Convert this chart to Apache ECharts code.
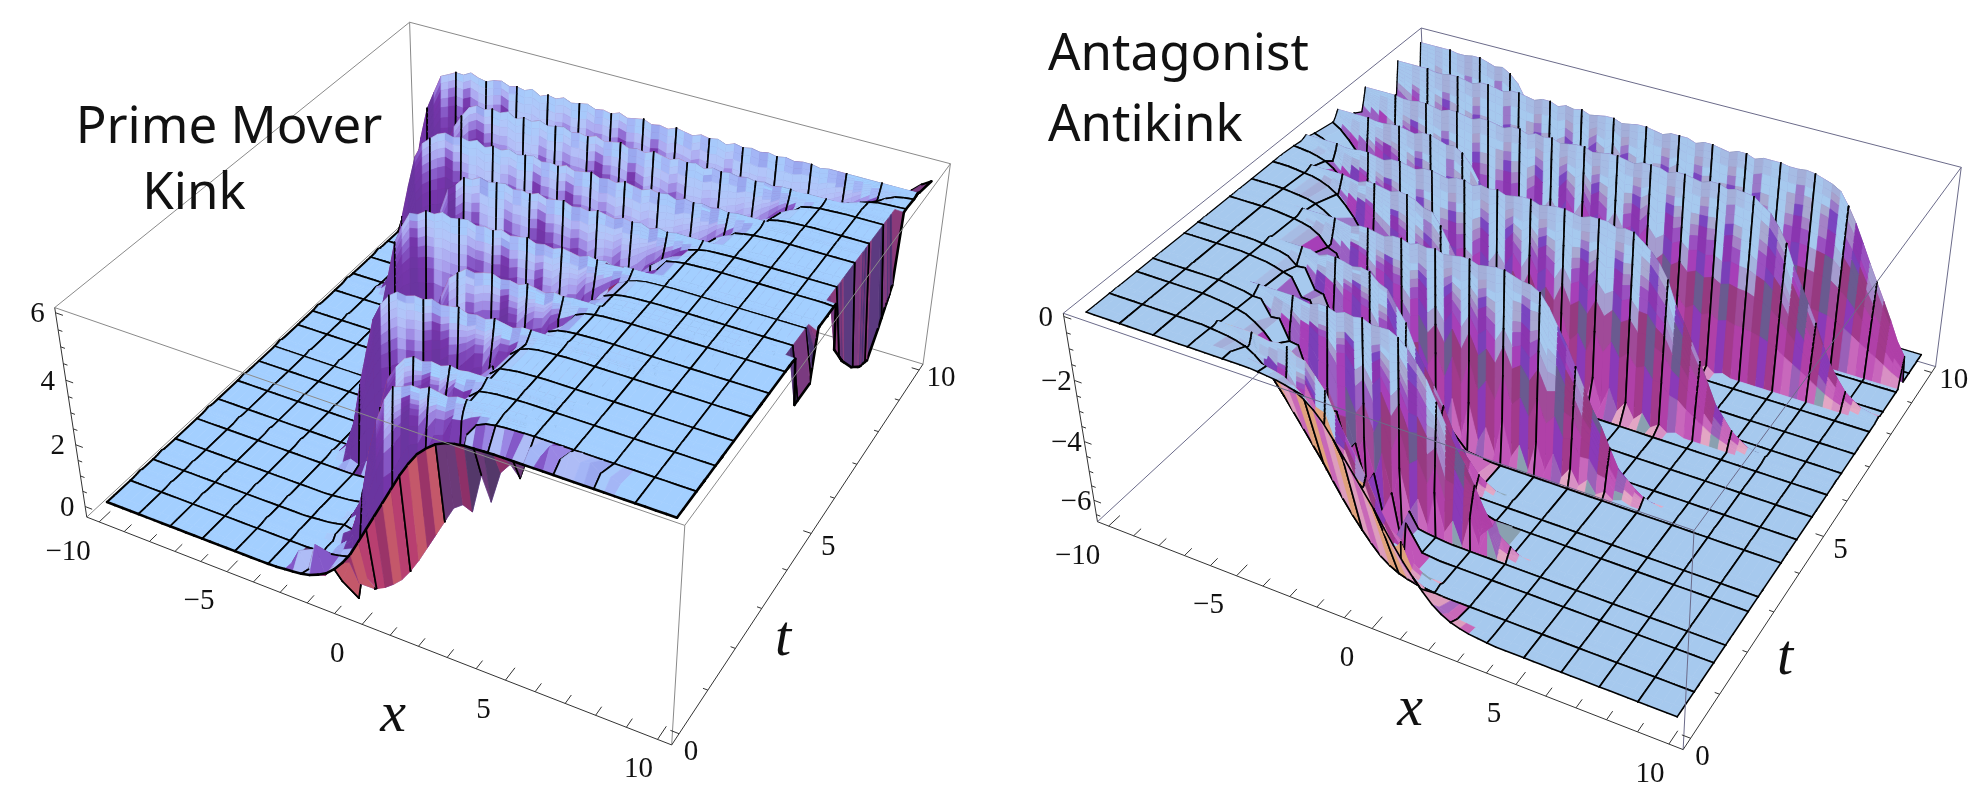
<!DOCTYPE html>
<html><head><meta charset="utf-8">
<style>html,body{margin:0;padding:0;background:#fff}#c{width:1987px;height:803px}</style>
<script src="https://cdn.jsdelivr.net/npm/echarts@6/dist/echarts.min.js"></script>
</head><body><div id="c"></div>
<script>
// ---------- values ----------
const titleLeft = ['Prime Mover', 'Kink'];
const titleRight = ['Antagonist', 'Antikink'];
const xTicks = [-10, -5, 0, 5, 10];
const tTicks = [0, 5, 10];
const zTicksLeft = [0, 2, 4, 6];
const zTicksRight = [0, -2, -4, -6];

// kink height against distance from the kink centre
const profileD = [-30, -4, -3, -2.5, -2, -1.5, -1, -0.5, 0, 0.5, 1, 1.5, 2, 2.5, 3, 4, 30];
const leftProfile = [0, 0.02, 0.1, 0.2, 0.42, 0.8, 1.4, 2.2, 3, 3.8, 4.6, 5.2, 5.6, 5.8, 5.88, 5.92, 5.92];
const rightProfile = [0.02, 0, -0.1, -0.22, -0.5, -1, -1.7, -2.4, -3.1, -3.9, -4.6, -5.2, -5.7, -5.95, -6.1, -6.2, -6.25];
// the ridge sheets end more steeply
const ridgeD = [-30, -1.4, -1, -0.6, -0.2, 0.2, 0.6, 1, 1.4, 2, 30];
const leftRidgeProfile = [0, 0.05, 0.4, 1.6, 3.2, 4.6, 5.4, 5.75, 5.85, 5.92, 5.92];
const ridgeDR = [-30, -3, -2.2, -1.6, -1, -0.5, 0, 0.5, 1, 1.6, 2.2, 3, 30];
const rightRidgeProfile = [0, 0, -0.1, -0.4, -1.2, -2.2, -3.1, -4, -5, -5.7, -6.05, -6.2, -6.25];

// ridge sheets (t, kink position) and the kink position between them
const leftRidgeT = [0.9, 1.5, 2.85, 3.9, 5.05, 6.3, 7.3, 8.4, 9.3];
const leftRidgeX = [-0.8, -1.3, -3.4, -2.2, -5.2, -4.9, -7.2, -7.0, -8.9];
const leftValleyT = [0, 0.2, 0.5, 1, 2.2, 3.7, 5.1, 6.1, 7.2, 8.3, 8.9, 10];
const leftValleyX = [0.4, 2.4, 1.2, 0.0, 0.0, 0.9, 1.5, 2.3, 3.5, 4.6, 6.6, 7.8];
const rightRidgeT = [0.75, 1.85, 3.05, 4.0, 5.2, 6.0, 7.0, 7.9, 9.0, 9.8];
const rightRidgeX = [-1.4, 0.65, -1.6, 2.9, -2.4, 4.7, -3.2, 7.2, 8.8, -4.4];
const rightValleyT = [0, 0.2, 0.7, 2.5, 3.6, 5.2, 6.2, 8.2, 10];
const rightValleyX = [0, -0.6, -3.2, -3.8, -4.2, -5.6, -7.2, -8.5, -9.8];

// tone of the sheet along x, one per column (0 light .. 2 dark)
const stripeLeft = [0,0,1,0, 2,1,0,1, 0,2,1,0, 0,1,2,1, 0,0,2,1, 0,1,2,0, 0,2,1,0, 1,2,1,0, 0,2,1,0, 0,1,2,1, 0,0,2,1, 0,1,2,0, 0,1,2,1, 0,0,1,2, 0,1,0,1, 0,0,1,0];
const stripeRight = [0,0,1,0, 0,1,2,1, 0,1,2,1, 0,0,2,1, 0,1,2,1, 0,1,2,0, 0,2,1,0, 1,2,1,0, 0,1,2,1, 0,0,2,1, 0,1,2,1, 0,2,1,0, 0,1,2,1, 0,1,2,0, 1,2,1,0, 0,1,0,0];
// how far each column's ridge top falls short of the plateau
const notchLeft = [0,0,.1,0, .05,.15,0,.1, .05,.1,0,.1, .15,.05,0,.1, .05,.1,0,.15, .05,.1,0,.1, .05,0,.1,.05, .1,0,.1,.05, 0,.1,.05,.1, 0,.05,.1,0, .05,0,.1,0, .05,0,.05,0, .05,0,.05,0, 0,.05,0,0, 0,0,0,0, 0,0,0,0];
const notchRight = [0,0,0,0, 0,.05,.05,0, 0,.05,.1,0, 0,.05,.1,0, 0,.05,.1,0, 0,.1,0,.05, 0,.1,.05,0, 0,.1,.05,0, 0,.05,.1,0, 0,0,.1,0, 0,.05,.1,0, 0,.1,0,0, 0,.05,.05,0, 0,.05,0,0, 0,.05,0,0, 0,0,0,0];
// bottom edge jag of the walls (height above the valley floor)
const floorJagLeft = [0,0,0,0, 0,0,0,0, 0,0,0,0, .1,0,.2,0, .1,.3,0,.2, .1,.3,0,.2, 0,.1,.2,0, .1,0,.2,.3, 0,.2,.3,0, .2,.3,0,.2, .1,0,.2,0, .1,0,0,0, 0,0,0,0, 0,0,0,0, 0,0,0,0, 0,0,0,0];
const floorJagRight = [0,0,0,0, 0,0,0,0, 0,0,0,0, 0,0,0,0, .1,0,.3,0, .4,.1,.6,0, 1,.2,1.4,.3, 1.6,.4,1,.2, 1.5,.3,.8,0, 1.1,.2,.9,.2, .6,.1,.4,0, .2,0,.1,0, 0,0,0,0, 0,0,0,0, 0,0,0,0, 0,0,0,0];
// t-lines zigzag where they cross the kink between the ridges
const rowJagLeft = [0,0,0,0, 0,0,0,0, 0,0,.1,0, .15,0,.2,-.1, .2,0,.25,-.1, .3,-.1,.2,0, .3,-.2,-1,-.2, -1.4,-.1,-1.3,-.2, -1.5,-.1,-1.2,-.2, -1.4,-.1,-1.5,-.1, -1.2,-.2,-1.5,-.1, -1.3,-.2,-1.4,-.1, -1,-.1,-1.4,-.2, -1.2,-.1,-1,0, -.4,0,-.2,0, 0,0,0,0, 0];
const rowJagRight = [0,0,0,0, 0,0,0,0, 0,0,0,0, -.1,.1,-.2,.1, -.2,.2,-.3,.1, -.3,.2,-.5,.3, -.6,.3,-1,.5, -1.2,.4,-1.4,.6, -1.3,.7,-1,.6, -1.2,.6,-.8,.4, -.6,.3,-.4,.2, -.3,.1,-.2,.1, 0,0,0,0, 0,0,0,0, 0,0,0,0, 0];
// jag of the row just behind the t=0 edge of the left surface
const frontJagLeft = [0,0,0,0, 0,0,0,0, 0,0,0,0, 0,0,0,0, 0,0,0,0, 0,0,0,.5, 0,.9,0,.4, 0,.7,.1,.3, 0,0,0,0, 0,0,0,0, 0,0,-.3,-.9, -.1,-1.1,-.4,-.2, -.6,.3,.1,.5, .2,.5,.3,.4, .2,.2,.1,.1, 0,0,0,0, 0,0,0,0, 0];
// how the right-hand edge of the left surface hangs down: t and height
const edgeT = [4.1, 4.25, 4.85, 5.0, 5.7, 5.85, 6.3, 6.8, 7.2, 7.6, 8.0, 8.5, 8.65];
const edgeZ = [5.9, 4.4, 4.4, 5.9, 5.9, 4.4, 3.6, 2.9, 2.5, 2.3, 2.9, 3.8, 5.9];
// depth down a left sheet at which purple starts, along the sheet
const arcDepthLeft = [0.06, 0.1, 0.3, 0.16, 0.1, 0.1, 0.16, 0.28, 0.42, 0.5];

// ---------- helpers ----------
function interp(xs, ys, x) {
  if (x <= xs[0]) return ys[0];
  for (let i = 1; i < xs.length; i++) if (x <= xs[i]) {
    return ys[i-1] + (ys[i]-ys[i-1]) * (x-xs[i-1]) / (xs[i]-xs[i-1]);
  }
  return ys[ys.length-1];
}
function ramp(stops, s) {
  if (s <= stops[0][0]) return stops[0][1];
  for (let i = 1; i < stops.length; i++) if (s <= stops[i][0]) {
    const f = (s-stops[i-1][0])/(stops[i][0]-stops[i-1][0]), a = stops[i-1][1], b = stops[i][1];
    const ch = c => parseInt(a.substr(c,2),16)*(1-f) + parseInt(b.substr(c,2),16)*f;
    return 'rgb('+Math.round(ch(1))+','+Math.round(ch(3))+','+Math.round(ch(5))+')';
  }
  return stops[stops.length-1][1];
}
function fitCamera(bx, pts) {
  const A = [], b = [];
  pts.forEach(p => {
    const X = (p.w[0]-bx.x[0])/(bx.x[1]-bx.x[0]), Y = (p.w[1]-bx.t[0])/(bx.t[1]-bx.t[0]), Z = (p.w[2]-bx.z[0])/(bx.z[1]-bx.z[0]);
    const u = p.p[0]/1000, v = p.p[1]/1000;
    A.push([X,Y,Z,1,0,0,0,0,-u*X,-u*Y,-u*Z]); b.push(u);
    A.push([0,0,0,0,X,Y,Z,1,-v*X,-v*Y,-v*Z]); b.push(v);
  });
  const n = 11, M = [];
  for (let i = 0; i < n; i++) { M.push(new Array(n+1).fill(0));
    for (let j = 0; j < n; j++) for (let k = 0; k < A.length; k++) M[i][j] += A[k][i]*A[k][j];
    for (let k = 0; k < A.length; k++) M[i][n] += A[k][i]*b[k];
    M[i][i] += 1e-9;
  }
  for (let i = 0; i < n; i++) {
    let m = i; for (let r = i+1; r < n; r++) if (Math.abs(M[r][i]) > Math.abs(M[m][i])) m = r;
    [M[i], M[m]] = [M[m], M[i]];
    for (let r = 0; r < n; r++) if (r !== i) { const f = M[r][i]/M[i][i]; for (let c = i; c <= n; c++) M[r][c] -= f*M[i][c]; }
  }
  const h = M.map((r,i) => r[n]/r[i]);
  return (x,t,z) => {
    const X = (x-bx.x[0])/(bx.x[1]-bx.x[0]), Y = (t-bx.t[0])/(bx.t[1]-bx.t[0]), Z = (z-bx.z[0])/(bx.z[1]-bx.z[0]);
    const w = h[8]*X+h[9]*Y+h[10]*Z+1;
    return [1000*(h[0]*X+h[1]*Y+h[2]*Z+h[3])/w, 1000*(h[4]*X+h[5]*Y+h[6]*Z+h[7])/w];
  };
}
const meshEvery = 4, nCols = 64, meshRows = 16, wallDelta = 0.16;
const wallF = [0, 0.3, 0.5, 0.62, 0.7, 0.76, 0.82, 0.87, 0.92, 0.96, 1];
function buildRows(c) {
  const rows = [];
  const spans = c.ridgeT.map(T => [T - wallDelta - 0.01, T + wallDelta*0.55 + 0.01]);
  const inSpan = t => spans.some(s => t >= s[0] && t <= s[1]);
  for (let i = 0; i <= meshRows; i++) {
    let t = i*10/meshRows;
    spans.forEach(s => { if (t >= s[0] && t <= s[1]) t = s[0]-0.01; });
    rows.push({t, k:-1, f:0, mesh:true, jag:t>c.jagFrom});
  }
  rows.push({t:0.2, k:-1, f:0, mesh:false, front:true});
  (c.extraT||[]).forEach(t => { if (!inSpan(t)) rows.push({t, k:-1, f:0, mesh:false}); });
  c.ridgeT.forEach((T,k) => {
    wallF.forEach(f => rows.push({t:T - wallDelta*(1-f), k, f, mesh:false}));
    rows.push({t:T + wallDelta*0.55, k, f:0, mesh:false});
  });
  rows.sort((a,b) => a.t-b.t);
  const xs = []; for (let i = 0; i <= nCols; i++) xs.push(-10 + i*20/nCols);
  rows.forEach(r => {
    const xv = interp(c.valleyT, c.valleyX, r.t);
    r.z = xs.map((x,j) => {
      const jj = Math.min(j, nCols-1);
      let v = interp(profileD, c.profile, x-xv);
      if (r.k < 0) {
        if (r.front && c.frontJag) return v + c.frontJag[j];
        const lev = v/c.profile[c.profile.length-1];
        if (r.jag && lev > 0.04 && lev < 0.96) return v + c.rowJag[j];
        return v;
      }
      const xr = c.ridgeX[r.k];
      let top = interp(c.ridgeD, c.ridgeProfile, x-xr);
      const gap = top - v;
      if (Math.abs(gap) > 0.6) top -= c.notch[jj];
      const base = v + (Math.abs(gap) > 0.6 ? c.floorJag[jj] : 0);
      return base + (top-base)*r.f;
    });
  });
  return {rows, xs};
}
function buildQuads(c, colorFn) {
  const {rows, xs} = buildRows(c), out = [];
  if (c.edge) rows.forEach(r => {
    if (r.t >= edgeT[0] && r.t <= edgeT[edgeT.length-1]) r.z[nCols] = Math.min(r.z[nCols], interp(edgeT, edgeZ, r.t));
  });
  for (let r = rows.length-2; r >= 0; r--) {
    const a = rows[r], b = rows[r+1];
    for (let j = 0; j < nCols; j++) {
      const p = [[xs[j],a.t,a.z[j]],[xs[j+1],a.t,a.z[j+1]],[xs[j+1],b.t,b.z[j+1]],[xs[j],b.t,b.z[j]]];
      const scr = p.map(q => c.project(q[0],q[1],q[2]));
      let area = 0; for (let i = 0; i < 4; i++) { const n = scr[(i+1)%4]; area += scr[i][0]*n[1]-n[0]*scr[i][1]; }
      const zs = p.map(q => q[2]);
      const fill = colorFn(Math.max(...zs)-Math.min(...zs), (zs[0]+zs[1]+zs[2]+zs[3])/4, j, r, -area, a, b, (xs[j]+xs[j+1])/2);
      out.push({p, fill,
        meshA:a.mesh, meshB:b.mesh,
        meshL:j%meshEvery===0, meshR:(j+1)%meshEvery===0,
        edgeA:r===0, edgeB:r===rows.length-2, edgeL:j===0, edgeR:j===nCols-1, bw:c.edgeWidth});
    }
  }
  return out;
}
const boxL = {x:[-10.5,10.45], t:[-0.25,10.2], z:[-0.35,6.15]};
const boxR = {x:[-10.45,10.45], t:[-0.25,10.2], z:[-6.75,0.1]};
const cornerPx = (b, list) => list.map(l => ({w:[b.x[l[0]],b.t[l[1]],b.z[l[2]]], p:l.slice(3)}));
const projL = fitCamera(boxL, cornerPx(boxL, [
  [0,1,1,410,22],[1,1,1,950,163],[0,0,1,54.5,309],[1,0,1,685,525],[0,0,0,86.5,516],[1,0,0,672,745],[1,1,0,923,365]]));
const projR = fitCamera(boxR, cornerPx(boxR, [
  [0,1,1,1421,28],[1,1,1,1961,168],[0,0,1,1063,313],[1,0,1,1695,530],[0,0,0,1098,522],[1,0,0,1682,750],[1,1,0,1936,366]]));

const sheetRampLeft = [[0,'#a8cdfb'],[0.5,'#b4c2f8'],[1,'#a89cec'],[1.4,'#8a60cc'],[2,'#7535ab'],[4,'#6a35a0']];
function colorLeft(dz, z, j, r, area, a, b, x) {
  const tone = stripeLeft[j];
  if (j === nCols-1 && dz > 0.3) return ['#5c3a80','#4a3070','#7a3a80','#8a3a7a'][r%4];
  if (area < 0) {
    if (x > 8) return ['#5c3a80','#4a3070','#7a3a80'][tone];
    if (x > 2.4) return ['#6b3a78','#54386a','#8d3068'][tone];
    if (x < -1.5) return ['#7a3a70','#a03468','#5c3a70'][tone];
    return ['#b83f70','#c4586a','#9a3468'][tone];
  }
  const k = b.k >= 0 ? b.k : a.k;
  if (k < 0 || (dz < 0.3 && (z < 1 || z > 5.5))) {
    if (dz < 0.1) return (z > 5.5 || z < 0.3) ? '#a3cfff' : '#a3c3fb';
    if (dz < 0.45) return ['#a7c9fb','#a4b6f6','#9aa8ef'][tone];
    return ['#aebcf6','#9a86e4','#8458c8'][tone];
  }
  const xr = leftRidgeX[k], xv = interp(leftValleyT, leftValleyX, leftRidgeT[k]) + 1.5;
  const u = Math.max(0, Math.min(0.99, (x-xr)/(xv-xr)));
  const d0 = arcDepthLeft[Math.floor(u*arcDepthLeft.length)] + [0.09, 0.03, -0.02][tone];
  const depth = Math.max(1 - (a.f+b.f)/2, (5.9-z)/5.9*0.9);
  return ramp(sheetRampLeft, depth/Math.max(0.04,d0));
}
function colorRight(dz, z, j, r, area, a, b, x) {
  const tone = stripeRight[j];
  if (area < 0) {
    if (a.t < 0.9) return x < 0.6 ? ['#e0a27c','#dd9dbd','#c868b8'][tone] : ['#dd9dbd','#c868b8','#a850b0'][tone];
    return ['#8a3aa0','#6e3a9a','#5a5f88'][tone];
  }
  if (dz < 0.12) return '#a6c9ee';
  const fz = Math.max(0, -z/6.2);
  const k = b.k >= 0 ? b.k : a.k;
  const depth = k >= 0 ? Math.max(1 - (a.f+b.f)/2, fz) : fz;
  if (dz < 0.4 && fz < 0.1) return ['#a6c6ec','#a6bce4','#a4aed8'][tone];
  if (a.t < 0.7 && fz > 0.22) return x < 1.4 ? ['#e0a27c','#dd9dbd','#c868b8'][tone] : ['#dd9dbd','#c868b8','#a868c0'][tone];
  const bands = [
    [[0.36,'#a6c9ee'],[0.43,'#a4b4de'],[0.5,'#a59ccf'],[0.58,'#a586c8']],
    [[0.16,'#a6c9ee'],[0.23,'#a8a8d0'],[0.3,'#a482c6'],[0.42,'#9a50c0']],
    [[0.06,'#a6c9ee'],[0.11,'#a8a0cc'],[0.17,'#9a78c8'],[0.26,'#7a45c0'],[0.38,'#8a35b0']]
  ][tone];
  for (const s of bands) if (depth < s[0]) return s[1];
  if (fz > 0.96) return ['#d890c4','#e3a6c4','#8aa0b0'][tone];
  if (fz > 0.88) return ['#c055b8','#c868bc','#9a60b8'][tone];
  if (fz > 0.66) return ['#b040a8','#a23a8c','#8a3ab8'][tone];
  if (fz > 0.45) return ['#a04a98','#963a80','#6a5a90'][tone];
  return ['#9a60c2','#a63fb8','#7a3fb8'][tone];
}
const quadsLeft = buildQuads({project:projL, ridgeT:leftRidgeT, ridgeX:leftRidgeX, valleyT:leftValleyT, valleyX:leftValleyX,
  profile:leftProfile, ridgeD:ridgeD, ridgeProfile:leftRidgeProfile, notch:notchLeft, floorJag:floorJagLeft,
  rowJag:rowJagLeft, frontJag:frontJagLeft, edge:true, extraT:edgeT, edgeWidth:2.6, jagFrom:0.3}, colorLeft);
const quadsRight = buildQuads({project:projR, ridgeT:rightRidgeT, ridgeX:rightRidgeX, valleyT:rightValleyT, valleyX:rightValleyX,
  profile:rightProfile, ridgeD:ridgeDR, ridgeProfile:rightRidgeProfile, notch:notchRight, floorJag:floorJagRight,
  rowJag:rowJagRight, edge:false, edgeWidth:1.6, jagFrom:1.3}, colorRight);

function surfaceSeries(quads, project) {
  return {
    type:'custom', coordinateSystem:'cartesian2d', animation:false, silent:true, clip:false, progressive:0, z:5,
    data: quads.map((q,i)=>[i]), encode:{x:0,y:0},
    renderItem(params, api) {
      const q = quads[api.value(0)];
      const s = q.p.map(v => api.coord(project(v[0],v[1],v[2])));
      const kids = [{type:'polygon', shape:{points:s}, style:{fill:q.fill, stroke:q.fill, lineWidth:0.7}}];
      const ln = (a,b,w) => kids.push({type:'line', shape:{x1:a[0],y1:a[1],x2:b[0],y2:b[1]}, style:{stroke:'#000', lineWidth:w, lineCap:'round'}});
      if (q.edgeA) ln(s[0],s[1],q.bw); else if (q.meshA) ln(s[0],s[1],1.7);
      if (q.edgeB) ln(s[3],s[2],q.bw*0.8); else if (q.meshB) ln(s[3],s[2],1.7);
      if (q.edgeL) ln(s[0],s[3],q.bw*0.8); else if (q.meshL) ln(s[0],s[3],1.7);
      if (q.edgeR) ln(s[1],s[2],q.bw); else if (q.meshR) ln(s[1],s[2],1.7);
      return {type:'group', children:kids};
    }
  };
}
function segSeries(segs, z) {
  return {type:'custom', coordinateSystem:'cartesian2d', animation:false, silent:true, clip:false, progressive:0, z,
    data: segs.map((s,i)=>[i]), encode:{x:0,y:0},
    renderItem(p, api) {
      const s = segs[api.value(0)], a = api.coord(s.a), b = api.coord(s.b);
      return {type:'line', shape:{x1:a[0],y1:a[1],x2:b[0],y2:b[1]}, style:{stroke:s.c, lineWidth:s.w}};
    }};
}
function textSeries(items) {
  return {type:'custom', coordinateSystem:'cartesian2d', animation:false, silent:true, clip:false, progressive:0, z:20,
    data: items.map((s,i)=>[i]), encode:{x:0,y:0},
    renderItem(p, api) {
      const s = items[api.value(0)], a = api.coord(s.at);
      return {type:'text', x:a[0], y:a[1], style:{text:s.text, fill:'#111', font:s.font, textAlign:s.align||'center', textVerticalAlign:'middle'}};
    }};
}
function boxParts(b, proj, gray, zTicks) {
  const P = (i,j,k) => proj(b.x[i],b.t[j],b.z[k]);
  const back = [[P(0,1,0),P(1,1,0)],[P(0,1,0),P(0,0,0)],[P(0,1,0),P(0,1,1)]];
  const front = [[P(0,0,1),P(1,0,1)],[P(1,0,1),P(1,1,1)],[P(0,0,1),P(0,1,1)],[P(0,1,1),P(1,1,1)],[P(1,1,1),P(1,1,0)],[P(1,0,1),P(1,0,0)]];
  const axes = [[P(0,0,0),P(1,0,0)],[P(1,0,0),P(1,1,0)],[P(0,0,0),P(0,0,1)]];
  const segs = front.map(s => ({a:s[0],b:s[1],c:gray,w:1})).concat(axes.map(s => ({a:s[0],b:s[1],c:'#333',w:1})));
  const t0=b.t[0], x1=b.x[1], x0=b.x[0], z0=b.z[0];
  const tick=(a,c,len)=>{const d=[c[0]-a[0],c[1]-a[1]];return {a,b:[a[0]+d[0]*len,a[1]+d[1]*len],c:'#333',w:1};};
  for (let x=-10;x<=10;x++){ const maj=x%5===0; segs.push(tick(proj(x,t0,z0),proj(x,t0+1,z0),maj?0.3:0.2)); }
  for (let t=0;t<=10;t++){ const maj=t%5===0; segs.push(tick(proj(x1,t,z0),proj(x1-2,t,z0),maj?0.14:0.08)); }
  for (let z=Math.ceil(z0*2)/2;z<=b.z[1];z+=0.5){ const maj=Math.abs(z)%2===0; segs.push(tick(proj(x0,t0,z),proj(x0+2,t0,z),maj?0.14:0.08)); }
  const text=[]; const font='29px "Liberation Serif"';
  const fmt=v=>v<0?'\u2212'+(-v):String(v);
  xTicks.forEach(x=>{const a=proj(x,t0,z0);text.push({at:[a[0]-31+(x+10)*0.6,a[1]+30],text:fmt(x),font});});
  tTicks.forEach(t=>{const a=proj(x1,t,z0);text.push({at:[a[0]+12+t,a[1]+19-1.1*t],text:fmt(t),font});});
  zTicks.forEach(z=>{const a=proj(x0,t0,z);text.push({at:[a[0]-18,a[1]+2],text:fmt(z),font});});
  return {back:back.map(s=>({a:s[0],b:s[1],c:gray,w:1})),segs,text};
}
const partsL = boxParts(boxL, projL, '#8a8a8a', zTicksLeft);
const partsR = boxParts(boxR, projR, '#6b6b8a', zTicksRight);
const bigFont='italic 58px "Liberation Serif"', titleFont='51px "Noto Sans"';
const labels=[
  {at:[393,716],text:'x',font:bigFont},{at:[783,640],text:'t',font:bigFont},
  {at:[1410,710],text:'x',font:bigFont},{at:[1785,659],text:'t',font:bigFont},
  {at:[229,128],text:titleLeft[0],font:titleFont},{at:[194,194],text:titleLeft[1],font:titleFont},
  {at:[1048,55],text:titleRight[0],font:titleFont,align:'left'},{at:[1048,126],text:titleRight[1],font:titleFont,align:'left'}
];
const chart = echarts.init(document.getElementById('c'), null, {renderer:'canvas', width:1987, height:803});
chart.setOption({
  animation:false, backgroundColor:'#fff',
  grid:{left:0,right:0,top:0,bottom:0},
  xAxis:{type:'value',min:0,max:1987,show:false},
  yAxis:{type:'value',min:0,max:803,inverse:true,show:false},
  series:[
    segSeries(partsL.back.concat(partsR.back),2),
    surfaceSeries(quadsLeft,projL),
    surfaceSeries(quadsRight,projR),
    segSeries(partsL.segs.concat(partsR.segs),10),
    textSeries(partsL.text.concat(partsR.text,labels))
  ]
});
</script></body></html>
